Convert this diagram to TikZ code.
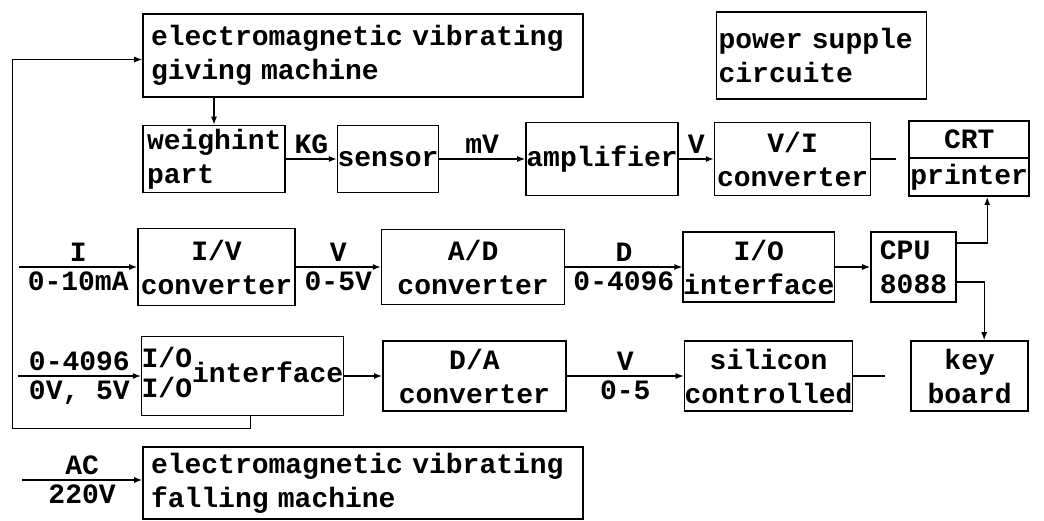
\documentclass[tikz,border=0pt]{standalone}
\usepackage{fontspec}
\setmonofont{Liberation Mono}
\usetikzlibrary{positioning,arrows.meta}
\newcommand\diagfont{\ttfamily\bfseries\fontsize{28}{34}\selectfont\fontdimen2\font 0.6em\relax}

\begin{document}
\begin{tikzpicture}[
  x=1pt, y=-1pt,
  every node/.style={font=\diagfont},
  block/.style={
    draw, line width=1.6pt, inner sep=0pt, align=center,
  },
  lbl/.style={inner sep=0pt},
  arrow/.style={-{Latex[length=8pt,width=6pt]}, line width=1.3pt},
  wire/.style={line width=1.3pt},
]
  \useasboundingbox (0,0) rectangle (1044,521);

  % machines and power supply (top)
  \node[block, minimum width=440pt, minimum height=83pt, text width=424pt, align=left]
    (giving) at (363,55.5) {electromagnetic vibrating\\giving machine};
  \node[block, minimum width=210pt, minimum height=87pt, text width=206pt, align=left,
    right=132pt of giving] (power) {power supple\\circuite};

  % measuring chain
  \node[block, minimum width=142pt, minimum height=67pt, text width=134pt, align=left]
    (weigh) at (214,159) {weighint\\part};
  \node[block, minimum width=98pt, minimum height=67pt, right=51pt of weigh] (sensor) {sensor};
  \node[block, minimum width=152pt, minimum height=73pt, right=86pt of sensor] (amp) {amplifier};
  \node[block, minimum width=156pt, minimum height=73pt, right=35pt of amp] (vi) {V/I\\converter};
  \node[block, minimum width=120pt, minimum height=37pt, anchor=south west]
    (crt) at ([xshift=37pt]vi.east) {CRT};
  \node[block, minimum width=120pt, minimum height=38pt, below=-1.6pt of crt] (prn) {printer};

  % input chain
  \node[block, minimum width=157pt, minimum height=77pt] (iv) at (216.5,267) {I/V\\converter};
  \node[block, minimum width=183pt, minimum height=75pt, right=85pt of iv] (ad) {A/D\\converter};
  \node[block, minimum width=150pt, minimum height=70pt, right=117pt of ad] (io1) {I/O\\interface};
  \node[block, minimum width=85pt, minimum height=70pt, right=35pt of io1, align=left] (cpu) {CPU\\8088};

  % output chain
  \node[block, minimum width=199pt, minimum height=79pt] (io2) at (242.5,376)
    {\begin{tabular}{@{}l@{}}I/O\\[-4pt]I/O\end{tabular}interface};
  \node[block, minimum width=183pt, minimum height=70pt, right=38pt of io2] (da) {D/A\\converter};
  \node[block, minimum width=168pt, minimum height=70pt, right=117pt of da] (scr) {silicon\\controlled};
  \node[block, minimum width=117pt, minimum height=70pt, right=57pt of scr] (key) {key\\board};

  % falling machine (bottom)
  \node[block, minimum width=440pt, minimum height=72pt, text width=424pt, align=left]
    (fall) at (363,483) {electromagnetic vibrating\\falling machine};

  % free ends
  \coordinate[right=25pt of vi] (viend);
  \coordinate[right=32pt of scr] (scrend);
  \coordinate[left=118pt of iv] (iin);
  \coordinate[left=123pt of io2] (dio);
  \coordinate (acin) at (22,480);
  \coordinate (fbcorner) at (12,428);

  % connections
  \draw[arrow] (giving.south -| weigh.north) -- (weigh.north);
  \draw[arrow] (weigh) -- node[lbl, above=5pt]{KG} (sensor);
  \draw[arrow] (sensor) -- node[lbl, above=5pt]{mV} (amp);
  \draw[arrow] (amp) -- node[lbl, above=5pt]{V} (vi);
  \draw[wire] (vi) -- (viend);

  \draw[arrow] (iin) -- node[lbl, above=5pt]{I} node[lbl, below=4pt]{0-10mA} (iv);
  \draw[arrow] (iv) -- node[lbl, above=5pt]{V} node[lbl, below=4pt]{0-5V} (ad);
  \draw[arrow] (ad) -- node[lbl, above=5pt]{D} node[lbl, below=4pt]{0-4096} (io1);
  \draw[arrow] (io1) -- (cpu);
  \draw[arrow] ([yshift=24pt]cpu.east) -| ([xshift=18pt]prn.south);
  \draw[arrow] ([yshift=-15pt]cpu.east) -| ([xshift=14.5pt]key.north);

  \draw[arrow] (dio) -- node[lbl, above=5pt]{0-4096} node[lbl, below=4pt]{0V, 5V} (io2);
  \draw[arrow] (io2) -- (da);
  \draw[arrow] (da) -- node[lbl, above=5pt]{V} node[lbl, below=4pt]{0-5} (scr);
  \draw[wire] (scr) -- (scrend);

  % feedback to the giving machine
  \draw[arrow, line width=1pt] ([xshift=7.5pt]io2.south) |- (fbcorner) |- ([yshift=-4pt]giving.west);

  \draw[arrow] (acin) -- node[lbl, above=5pt]{AC} node[lbl, below=4pt]{220V} (acin -| fall.west);
\end{tikzpicture}
\end{document}
